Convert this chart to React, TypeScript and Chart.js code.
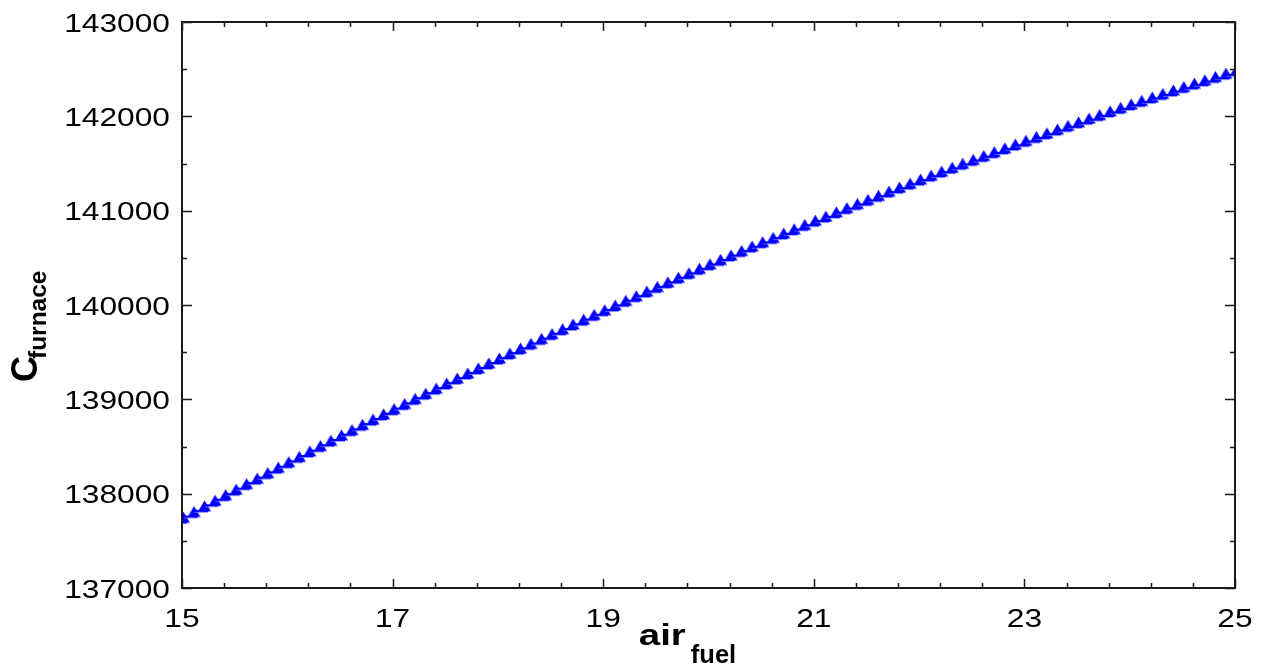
import React, { useEffect, useRef } from 'react';
import { Chart, registerables } from 'chart.js';

Chart.register(...registerables);

// air/fuel ratio (x) — grid of sampled points
const airFuel: number[] = [
  15.0, 15.1, 15.2, 15.3, 15.4, 15.5, 15.6, 15.7, 15.8, 15.9,
  16.0, 16.1, 16.2, 16.3, 16.4, 16.5, 16.6, 16.7, 16.8, 16.9,
  17.0, 17.1, 17.2, 17.3, 17.4, 17.5, 17.6, 17.7, 17.8, 17.9,
  18.0, 18.1, 18.2, 18.3, 18.4, 18.5, 18.6, 18.7, 18.8, 18.9,
  19.0, 19.1, 19.2, 19.3, 19.4, 19.5, 19.6, 19.7, 19.8, 19.9,
  20.0, 20.1, 20.2, 20.3, 20.4, 20.5, 20.6, 20.7, 20.8, 20.9,
  21.0, 21.1, 21.2, 21.3, 21.4, 21.5, 21.6, 21.7, 21.8, 21.9,
  22.0, 22.1, 22.2, 22.3, 22.4, 22.5, 22.6, 22.7, 22.8, 22.9,
  23.0, 23.1, 23.2, 23.3, 23.4, 23.5, 23.6, 23.7, 23.8, 23.9,
  24.0, 24.1, 24.2, 24.3, 24.4, 24.5, 24.6, 24.7, 24.8, 24.9,
  25.0,
];

// C_furnace values
const cFurnace: number[] = [
  137740, 137800, 137860, 137919, 137978, 138037, 138096, 138154, 138212, 138270,
  138328, 138385, 138442, 138499, 138556, 138612, 138668, 138724, 138780, 138835,
  138890, 138945, 138999, 139054, 139108, 139162, 139215, 139269, 139322, 139375,
  139427, 139480, 139532, 139583, 139635, 139686, 139737, 139788, 139839, 139889,
  139939, 139989, 140039, 140088, 140137, 140186, 140234, 140283, 140331, 140378,
  140426, 140473, 140520, 140567, 140614, 140660, 140706, 140752, 140797, 140843,
  140888, 140932, 140977, 141021, 141065, 141109, 141152, 141196, 141239, 141281,
  141324, 141366, 141408, 141450, 141492, 141533, 141574, 141614, 141655, 141695,
  141735, 141775, 141814, 141854, 141893, 141931, 141970, 142008, 142046, 142084,
  142121, 142158, 142195, 142232, 142269, 142305, 142341, 142376, 142412, 142447,
  142482,
];

const X_MIN = 15;
const X_MAX = 25;
const X_STEP = 2;
const X_MINOR = 0.4;
const Y_MIN = 137000;
const Y_MAX = 143000;
const Y_STEP = 1000;
const Y_MINOR = 500;

const X_TITLE_MAIN = 'air';
const X_TITLE_SUB = 'fuel';
const Y_TITLE_MAIN = 'C';
const Y_TITLE_SUB = 'furnace';

const FONT_FAMILY = '"Liberation Sans", Arial, sans-serif';

function drawScaledText(
  ctx: CanvasRenderingContext2D,
  text: string,
  x: number,
  y: number,
  align: CanvasTextAlign,
  sx: number,
) {
  ctx.save();
  ctx.translate(x, y);
  ctx.scale(sx, 1);
  ctx.textAlign = align;
  ctx.textBaseline = 'alphabetic';
  ctx.fillText(text, 0, 0);
  ctx.restore();
}

const framePlugin = {
  id: 'eesFrame',
  afterDatasetsDraw(chart: any) {
    const { ctx, chartArea: a, scales } = chart;
    const xs = scales.x;
    const ys = scales.y;
    ctx.save();

    // inward ticks on all four sides
    ctx.strokeStyle = '#1a1a1a';
    ctx.lineWidth = 1.5;
    const majorLen = 9;
    const minorLen = 5;
    const nx = Math.round((X_MAX - X_MIN) / X_MINOR);
    for (let i = 0; i <= nx; i++) {
      const v = X_MIN + i * X_MINOR;
      const r = (v - X_MIN) / X_STEP;
      const major = Math.abs(r - Math.round(r)) < 1e-6;
      const len = major ? majorLen : minorLen;
      const px = Math.round(xs.getPixelForValue(v)) + 0.5;
      ctx.beginPath();
      ctx.moveTo(px, a.bottom);
      ctx.lineTo(px, a.bottom - len);
      ctx.moveTo(px, a.top);
      ctx.lineTo(px, a.top + len);
      ctx.stroke();
    }
    const ny = Math.round((Y_MAX - Y_MIN) / Y_MINOR);
    for (let i = 0; i <= ny; i++) {
      const v = Y_MIN + i * Y_MINOR;
      const r = (v - Y_MIN) / Y_STEP;
      const major = Math.abs(r - Math.round(r)) < 1e-6;
      const len = major ? majorLen + 1 : minorLen;
      const py = Math.round(ys.getPixelForValue(v)) + 0.5;
      ctx.beginPath();
      ctx.moveTo(a.left, py);
      ctx.lineTo(a.left + len, py);
      ctx.moveTo(a.right, py);
      ctx.lineTo(a.right - len, py);
      ctx.stroke();
    }

    // frame
    ctx.lineWidth = 2;
    ctx.strokeRect(a.left, a.top, a.right - a.left, a.bottom - a.top);

    // tick labels
    ctx.fillStyle = '#000';
    ctx.font = `26px ${FONT_FAMILY}`;
    for (const t of xs.ticks) {
      const px = xs.getPixelForValue(t.value);
      drawScaledText(ctx, String(t.label), px, a.bottom + 39, 'center', 1.22);
    }
    for (const t of ys.ticks) {
      const py = ys.getPixelForValue(t.value);
      drawScaledText(ctx, String(t.label), a.left - 12, py + 9.5, 'right', 1.22);
    }

    // x title: air_fuel
    const mainFont = `bold 30px ${FONT_FAMILY}`;
    const subFont = `bold 25px ${FONT_FAMILY}`;
    ctx.font = mainFont;
    const sxMain = 1.28;
    const wMain = ctx.measureText(X_TITLE_MAIN).width * sxMain;
    ctx.font = subFont;
    const sxSub = 1.02;
    const wSub = ctx.measureText(X_TITLE_SUB).width * sxSub;
    const gap = 5;
    const total = wMain + gap + wSub;
    const cx = (a.left + a.right) / 2 - 21;
    const left = cx - total / 2;
    ctx.font = mainFont;
    drawScaledText(ctx, X_TITLE_MAIN, left, a.bottom + 57, 'left', sxMain);
    ctx.font = subFont;
    drawScaledText(ctx, X_TITLE_SUB, left + wMain + gap, a.bottom + 75, 'left', sxSub);

    // y title: C_furnace (rotated)
    ctx.save();
    ctx.translate(37, 382);
    ctx.rotate(-Math.PI / 2);
    ctx.font = `bold 36px ${FONT_FAMILY}`;
    ctx.textAlign = 'left';
    ctx.textBaseline = 'alphabetic';
    ctx.fillText(Y_TITLE_MAIN, 0, 0);
    const wC = ctx.measureText(Y_TITLE_MAIN).width;
    ctx.font = `bold 24px ${FONT_FAMILY}`;
    ctx.save();
    ctx.translate(wC - 3, 9);
    ctx.scale(1.02, 1);
    ctx.fillText(Y_TITLE_SUB, 0, 0);
    ctx.restore();
    ctx.restore();

    ctx.restore();
  },
};

function makeMarker(): HTMLCanvasElement {
  const mk = document.createElement('canvas');
  mk.width = 18;
  mk.height = 16;
  const m = mk.getContext('2d')!;
  m.fillStyle = '#0000ff';
  m.beginPath();
  m.moveTo(10.5, 1.5);
  m.lineTo(17, 12.5);
  m.lineTo(4, 12.5);
  m.closePath();
  m.fill();
  m.fillRect(0, 11, 14, 2);
  m.fillStyle = 'rgba(110,110,255,0.7)';
  m.fillRect(0, 13, 14, 1);
  return mk;
}

export default function App() {
  const canvasRef = useRef<HTMLCanvasElement | null>(null);

  useEffect(() => {
    const canvas = canvasRef.current;
    if (!canvas) return;
    const marker = makeMarker();
    const points = airFuel.map((x, i) => ({ x, y: cFurnace[i] }));
    const chart = new Chart(canvas, {
      type: 'scatter',
      data: {
        datasets: [
          {
            label: 'C_furnace',
            data: points,
            pointStyle: marker as any,
            pointRadius: 7,
            backgroundColor: '#0000ff',
            borderColor: '#0000ff',
            showLine: false,
          },
        ],
      },
      options: {
        responsive: false,
        animation: false,
        devicePixelRatio: 1,
        layout: { padding: { left: 182, top: 22, right: 31, bottom: 80 } },
        plugins: {
          legend: { display: false },
          tooltip: { enabled: false },
          title: { display: false },
        },
        scales: {
          x: {
            type: 'linear',
            position: 'bottom',
            min: X_MIN,
            max: X_MAX,
            ticks: { display: false, stepSize: X_STEP, callback: (v: any) => String(v) },
            grid: { display: false, drawTicks: false },
            border: { display: false },
          },
          y: {
            type: 'linear',
            position: 'left',
            min: Y_MIN,
            max: Y_MAX,
            ticks: { display: false, stepSize: Y_STEP, callback: (v: any) => String(v) },
            grid: { display: false, drawTicks: false },
            border: { display: false },
          },
        },
      },
      plugins: [framePlugin],
    });
    return () => chart.destroy();
  }, []);

  return (
    <div style={{ position: 'absolute', left: 0, top: 0, width: 1266, height: 668, background: '#fff' }}>
      <canvas ref={canvasRef} width={1266} height={668} style={{ display: 'block' }} />
    </div>
  );
}
